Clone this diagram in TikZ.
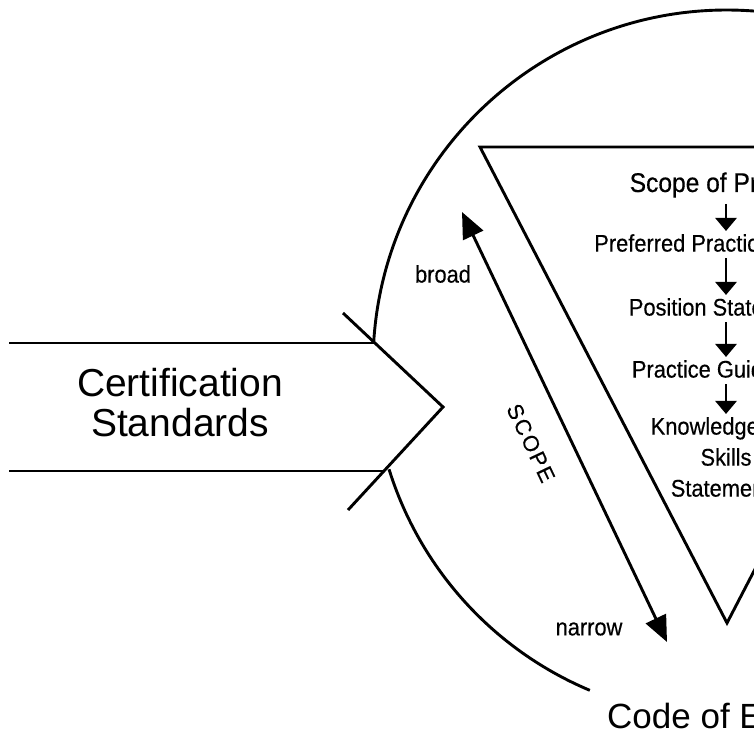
\documentclass[tikz,border=0pt]{standalone}
\usepackage{fontspec}
\setmainfont{Liberation Sans}
\newfontfamily\narrowfont[FakeStretch=0.91,FakeBold=0.4]{Liberation Sans}
\newfontfamily\spacedfont[LetterSpace=8,FakeBold=0.4]{Liberation Sans}
\usetikzlibrary{arrows.meta}

\begin{document}
\begin{tikzpicture}[x=1pt, y=-1pt,
    outline/.style={line width=2.9pt},
    flow/.style={line width=2.8pt, -{Triangle[width=21pt,length=13pt]}, shorten <=3pt},
    scopearrow/.style={line width=2.9pt, {Triangle[width=22pt,length=26pt]}-{Triangle[width=22pt,length=26pt]}},
    levelbox/.style={font=\narrowfont\fontsize{24}{31}\selectfont, inner sep=3pt, align=center},
    endlabel/.style={font=\narrowfont\fontsize{24}{30}\selectfont, inner sep=0pt}]
    \useasboundingbox (0,0) rectangle (754,736);
    \clip (0,0) rectangle (754,736);
    \fill[white] (0,0) rectangle (754,736);
    % circle of the code, open at the arrow and at the bottom
    \coordinate (hub) at (727,364);
    \draw[outline] (hub) ++(183.4:354) arc[start angle=183.4, end angle=427, radius=354];
    \draw[outline] (hub) ++(162.7:354) arc[start angle=162.7, end angle=112.8, radius=354];
    % incoming arrow
    \node[font=\fontsize{39}{40}\selectfont, align=center] (cert) at (180,403) {Certification\\Standards};
    \coordinate (chevtip) at (443,407);
    \draw[outline] (9,343) -- (375,343);
    \draw[outline] (9,471) -- (384,471);
    \draw[outline] (343,313) -- (chevtip) -- (348,510);
    % inverted triangle
    \draw[outline] (480,147) -- (727,623) -- (974,147) -- cycle;
    \node[levelbox, font=\narrowfont\fontsize{27}{32}\selectfont] (scope) at (726,185) {Scope of Practice};
    \node[levelbox] (ppp) at (726,243) {Preferred Practice Patterns};
    \node[levelbox] (pos) at (726,307) {Position Statements};
    \node[levelbox] (guide) at (726,369) {Practice Guidelines};
    \node[levelbox] (ksa) at (726,457) {Knowledge and\\Skills\\Statements};
    \foreach \a/\b in {scope/ppp, ppp/pos, pos/guide, guide/ksa}
        \draw[flow] (\a) -- (\b);
    % scope axis
    \coordinate (broadtip) at (462,212);
    \coordinate (narrowtip) at (667,642);
    \draw[scopearrow] (broadtip) -- (narrowtip)
        node[midway, sloped, below=28pt, font=\spacedfont\fontsize{22}{26}\selectfont, inner sep=0pt] (axis) {SCOPE};
    \node[endlabel] (broadlbl) at (443,274) {broad};
    \node[endlabel] (narrowlbl) at (589,629) {narrow};
    \node[font=\fontsize{35}{40}\selectfont, anchor=base west, inner sep=0pt] (coe) at (607,728) {Code of Ethics};
\end{tikzpicture}
\end{document}
